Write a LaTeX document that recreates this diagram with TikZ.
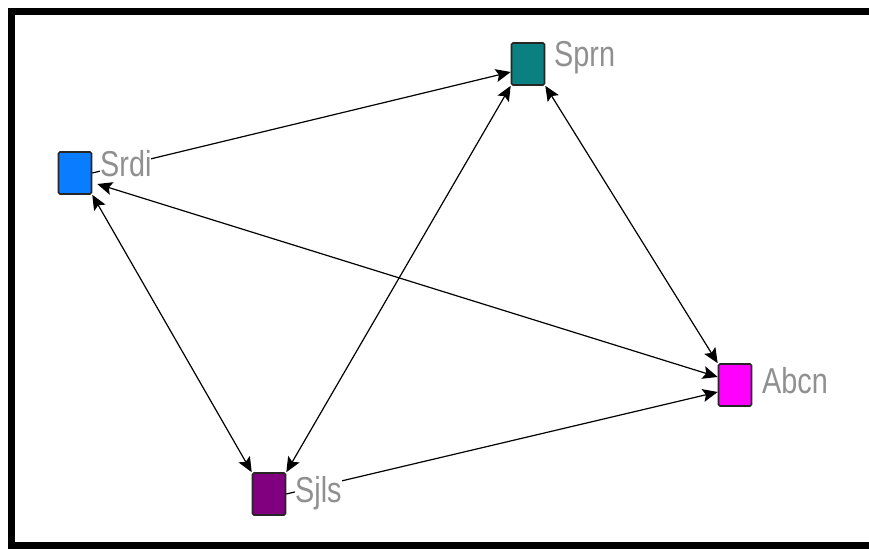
\documentclass[tikz,border=0pt]{standalone}
\usepackage{fontspec}
\setmainfont{Liberation Sans}[FakeStretch=0.8]
\usetikzlibrary{arrows.meta}
\definecolor{srdic}{HTML}{0A7CFF}
\definecolor{sprnc}{HTML}{0B8080}
\definecolor{abcnc}{HTML}{FF00FF}
\definecolor{sjlsc}{HTML}{800080}
\definecolor{labc}{HTML}{909090}
\tikzset{
  actor/.style={draw=black!85, line width=1.6bp, rounded corners=1.5bp, minimum width=33bp, minimum height=42bp, inner sep=0pt},
  lab/.style={anchor=base west, inner sep=0pt, fill=white, text=labc, font=\fontsize{36bp}{36bp}\selectfont},
  tie/.style={line width=1.2bp, draw=black},
  tip/.style={-{Stealth[length=15bp,width=13bp,inset=3bp]}},
  tips/.style={{Stealth[length=15bp,width=13bp,inset=3bp]}-{Stealth[length=15bp,width=13bp,inset=3bp]}},
}
\begin{document}
\begin{tikzpicture}[x=1bp,y=-1bp]
\useasboundingbox (0,0) rectangle (869,549);
\fill[white] (0,0) rectangle (869,549);
\fill[black] (8,8) rectangle (869,15);
\fill[black] (8,8) rectangle (15,549);
\fill[black] (8,542) rectangle (869,549);
% nodes
\node[actor, fill=srdic] (Srdi) at (75,173) {};
\node[actor, fill=sprnc] (Sprn) at (528,64) {};
\node[actor, fill=abcnc] (Abcn) at (735,385) {};
\node[actor, fill=sjlsc] (Sjls) at (269,494) {};
% ties
\draw[tie, tip] (Srdi.east) -- ([yshift=-8bp]Sprn.west);
\draw[tie, tips] ([xshift=5bp,yshift=-11bp]Srdi.east) -- ([yshift=8bp]Abcn.west);
\draw[tie, tips] (Srdi.south east) -- (Sjls.north west);
\draw[tie, tips] (Sprn.south west) -- (Sjls.north east);
\draw[tie, tips] (Sprn.south east) -- (Abcn.north west);
\draw[tie, tip] (Sjls.east) -- ([yshift=-7bp]Abcn.west);
% labels
\node[lab] (SrdiL) at (100,177) {Srdi};
\node[lab] (SprnL) at (554,67) {Sprn};
\node[lab] (AbcnL) at (762,393) {Abcn};
\node[lab] (SjlsL) at (295,502) {Sjls};
\end{tikzpicture}
\end{document}
